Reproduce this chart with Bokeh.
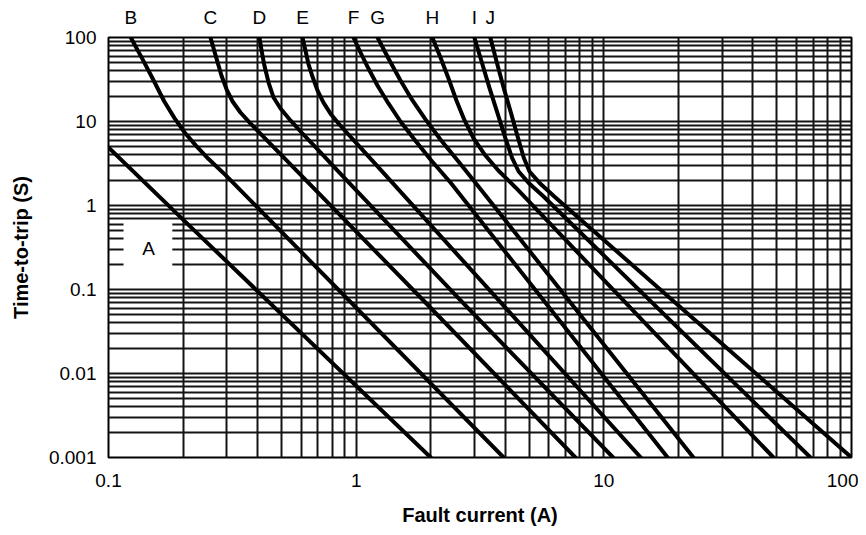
from bokeh.plotting import figure
from bokeh.models import FixedTicker, CustomJSTickFormatter, LogAxis, BoxAnnotation, Label, Range1d
from bokeh.embed import file_html
from bokeh.resources import INLINE

# ---- data ----
curve_labels = ["B", "C", "D", "E", "F", "G", "H", "I", "J"]
label_x = [0.123, 0.258, 0.407, 0.607, 0.975, 1.22, 2.03, 3.00, 3.48]

a_x = [0.1, 0.2, 2.0]
a_y = [4.9, 0.68, 0.001]
b_x = [0.123, 0.136, 0.152, 0.168, 0.185, 0.203, 0.225, 0.253, 0.297, 3.94]
b_y = [100, 58, 31, 17.3, 10.9, 7.4, 5.2, 3.6, 2.3, 0.001]
c_x = [0.258, 0.273, 0.286, 0.300, 0.317, 0.341, 0.374, 0.418, 1.87, 7.68]
c_y = [100, 56, 35, 24, 17.3, 12.8, 9.5, 6.8, 0.074, 0.001]
d_x = [0.407, 0.415, 0.426, 0.443, 0.464, 0.495, 0.543, 0.607, 0.705, 0.841, 2.64, 10.9]
d_y = [100, 70, 46.4, 29.1, 19.3, 14.3, 10.3, 7.2, 4.52, 2.61, 0.074, 0.001]
e_x = [0.607, 0.624, 0.641, 0.666, 0.698, 0.738, 0.788, 0.849, 0.923, 1.041, 1.254, 14.1]
e_y = [100, 70, 49, 34.3, 23.4, 16.8, 12.4, 9.47, 7.2, 4.9, 2.68, 0.001]
f_x = [0.975, 1.041, 1.121, 1.219, 1.350, 1.510, 1.719, 1.995, 2.403, 18.1]
f_y = [100, 66.3, 42.7, 26.8, 16.4, 10, 6.1, 3.53, 1.88, 0.001]
g_x = [1.22, 1.35, 1.51, 1.688, 1.905, 2.189, 2.588, 3.117, 23.0]
g_y = [100, 56.2, 30.8, 17.8, 10.6, 6.1, 3.34, 1.68, 0.001]
h_x = [2.03, 2.19, 2.36, 2.54, 2.74, 2.98, 3.30, 3.75, 4.40, 48.4]
h_y = [100, 57.8, 32.5, 17.8, 10.3, 6.28, 4.05, 2.61, 1.64, 0.001]
i_x = [3.00, 3.22, 3.46, 3.72, 4.00, 4.26, 4.53, 4.96, 5.71, 68.3]
i_y = [100, 50, 24.6, 12.6, 6.4, 3.7, 2.54, 1.87, 1.28, 0.001]
j_x = [3.48, 3.70, 3.95, 4.22, 4.50, 4.75, 5.01, 5.49, 6.31, 100]
j_y = [100, 50, 24.6, 12.6, 6.4, 3.7, 2.54, 1.87, 1.28, 0.001]

x_ticks = [0.1, 1, 10, 100]
x_tick_labels = ["0.1", "1", "10", "100"]
y_ticks = [0.001, 0.01, 0.1, 1, 10, 100]
y_tick_labels = ["0.001", "0.01", "0.1", "1", "10", "100"]

FONT = "Liberation Sans"

p = figure(width=858, height=533, x_axis_type="log", y_axis_type="log",
           x_range=Range1d(0.1, 100), y_range=Range1d(0.001, 100),
           output_backend="svg", toolbar_location=None,
           min_border_left=108, min_border_right=7, min_border_top=37, min_border_bottom=76)

x_minor = [m * 10.0 ** e for e in range(-1, 2) for m in range(2, 10)]
y_minor = [m * 10.0 ** e for e in range(-3, 2) for m in range(2, 10)]
x_ticker = FixedTicker(ticks=x_ticks, minor_ticks=x_minor)
y_ticker = FixedTicker(ticks=y_ticks, minor_ticks=y_minor)

xa = p.below[0]
ya = p.left[0]
xa.ticker = x_ticker
ya.ticker = y_ticker
xa.formatter = CustomJSTickFormatter(args=dict(labels=x_tick_labels), code="return labels[index];")
ya.formatter = CustomJSTickFormatter(args=dict(labels=y_tick_labels), code="return labels[index];")
for ax in (xa, ya):
    ax.axis_line_color = None
    ax.major_tick_line_color = None
    ax.minor_tick_line_color = None
    ax.major_tick_out = 0
    ax.major_tick_in = 0
    ax.minor_tick_out = 0
    ax.minor_tick_in = 0
    ax.major_label_text_font = FONT
    ax.major_label_text_font_size = "19px"
    ax.major_label_text_color = "black"
    ax.axis_label_text_font = FONT
    ax.axis_label_text_font_size = "20px"
    ax.axis_label_text_font_style = "bold"
    ax.axis_label_text_color = "black"
xa.axis_label = "Fault current (A)"
ya.axis_label = "Time-to-trip (S)"
xa.major_label_standoff = 16
xa.axis_label_standoff = 14
ya.major_label_standoff = 12
ya.axis_label_standoff = 14

p.xgrid.ticker = x_ticker
p.ygrid.ticker = y_ticker
for g in (p.xgrid, p.ygrid):
    g.grid_line_color = "#141414"
    g.grid_line_width = 2
    g.minor_grid_line_color = "#141414"
    g.minor_grid_line_width = 2
    g.grid_line_alpha = 1

p.outline_line_color = "black"
p.outline_line_width = 2
p.background_fill_color = "white"
p.border_fill_color = "white"

top_axis = LogAxis(ticker=FixedTicker(ticks=label_x, minor_ticks=[]),
                   formatter=CustomJSTickFormatter(args=dict(labels=curve_labels), code="return labels[index];"),
                   axis_line_color=None, major_tick_line_color=None, minor_tick_line_color=None,
                   major_tick_out=0, major_tick_in=0, minor_tick_out=0, minor_tick_in=0,
                   major_label_standoff=10, major_label_text_font=FONT,
                   major_label_text_font_size="19px", major_label_text_color="black")
p.add_layout(top_axis, "above")

for xs, ys in [(a_x, a_y), (b_x, b_y), (c_x, c_y), (d_x, d_y), (e_x, e_y),
               (f_x, f_y), (g_x, g_y), (h_x, h_y), (i_x, i_y), (j_x, j_y)]:
    p.line(xs, ys, line_color="black", line_width=4, line_join="round", line_cap="round")

p.add_layout(BoxAnnotation(left=0.115, right=0.181, bottom=0.15, top=0.65,
                           fill_color="white", fill_alpha=1, line_color=None))
p.add_layout(Label(x=0.145, y=0.31, text="A", text_align="center", text_baseline="middle",
                   text_font=FONT, text_font_size="19px", text_color="black"))

open("out.html", "w").write(file_html(p, INLINE))
